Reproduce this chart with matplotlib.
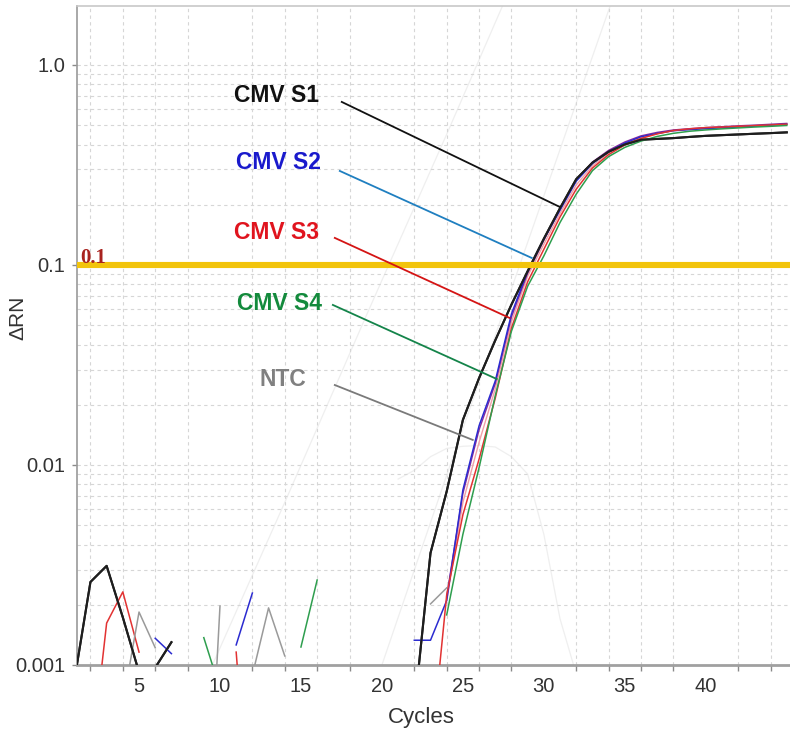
import numpy as np
import matplotlib
matplotlib.use('Agg')
import matplotlib.pyplot as plt
from matplotlib import font_manager
from matplotlib.ticker import MultipleLocator, LogLocator, NullFormatter

nan = np.nan

# amplification plot, delta Rn per cycle (nan = nothing drawn by the software)
cycles = np.arange(1, 46)

s1 = [0.00083, 0.0026, 0.00313, 0.00173, 0.00092,
      0.00097, 0.0013, nan, nan, nan,
      nan, nan, nan, nan, nan,
      nan, nan, nan, nan, nan,
      nan, 0.0006, 0.00363, 0.00738, 0.0168,
      0.0272, 0.042, 0.0634, 0.0931, 0.1352,
      0.1923, 0.2685, 0.3243, 0.368, 0.4004,
      0.4226, 0.4266, 0.4305, 0.4365, 0.4419,
      0.4455, 0.449, 0.4527, 0.456, 0.460]

s2 = [nan, nan, nan, nan, nan,
      0.00136, 0.00114, nan, nan, nan,
      0.00126, 0.00229, nan, nan, nan,
      nan, nan, nan, nan, nan,
      nan, 0.00133, 0.00133, 0.0021, 0.0075,
      0.0157, 0.0263, 0.0569, 0.0931, 0.1347,
      0.188, 0.2624, 0.3214, 0.3685, 0.407,
      0.4375, 0.4545, 0.469, 0.4745, 0.48,
      0.485, 0.489, 0.494, 0.50, 0.505]

s3 = [nan, 0.00031, 0.00162, 0.00232, 0.00116,
      nan, nan, nan, nan, nan,
      0.00116, 0.000106, nan, nan, nan,
      nan, nan, nan, nan, nan,
      nan, nan, 0.00034, 0.00224, 0.00564,
      0.0107, 0.0216, 0.0484, 0.0824, 0.1197,
      0.1738, 0.2393, 0.305, 0.356, 0.398,
      0.429, 0.452, 0.470, 0.479, 0.486,
      0.489, 0.493, 0.497, 0.501, 0.505]

s4 = [nan, nan, nan, nan, nan,
      nan, nan, nan, 0.00137, 0.00076,
      nan, nan, nan, nan, 0.00123,
      0.00266, nan, nan, nan, nan,
      nan, nan, nan, 0.00178, 0.0045,
      0.0097, 0.0222, 0.0467, 0.0783, 0.111,
      0.1631, 0.226, 0.296, 0.348, 0.387,
      0.416, 0.439, 0.455, 0.466, 0.473,
      0.479, 0.484, 0.489, 0.493, 0.498]

ntc = [nan, nan, nan, 0.00064, 0.00184,
       0.00122, nan, nan, 0.00006, 0.00197,
       nan, 0.00089, 0.00193, 0.00111, nan,
       nan, nan, nan, nan, nan,
       nan, nan, 0.00202, 0.00243, nan,
       nan, nan, nan, nan, nan,
       nan, nan, nan, nan, nan,
       nan, nan, nan, nan, nan,
       nan, nan, nan, nan, nan]

# replicate wells hidden under the labelled ones
rep_cycles = np.arange(24, 46)
rep_pink = [0.0021, 0.0065, 0.013, 0.024, 0.052, 0.088, 0.127, 0.181, 0.251, 0.313, 0.362,
            0.403, 0.433, 0.453, 0.469, 0.477, 0.483, 0.487, 0.491, 0.495, 0.499, 0.503]
rep_purple = [0.0022, 0.0072, 0.015, 0.0255, 0.055, 0.091, 0.133, 0.19, 0.266, 0.327, 0.374,
              0.412, 0.442, 0.46, 0.473, 0.48, 0.486, 0.491, 0.496, 0.50, 0.505, 0.51]

# very faint traces in the background
bg_arch_cycles = np.arange(21, 33)
bg_arch = [0.0085, 0.0094, 0.011, 0.0121, 0.0124, 0.0125, 0.0123, 0.011, 0.009, 0.0045, 0.0017, 0.0009]
bg_a_cycles = [9, 14, 19, 24, 28]
bg_a = [0.0008, 0.0065, 0.055, 0.45, 2.5]
bg_b_cycles = [20, 24, 28, 32, 35]
bg_b = [0.001, 0.0089, 0.076, 0.645, 3.2]

threshold = 0.1

# labels and their leader lines (text centre, line start, line end)
label_names = ['CMV S1', 'CMV S2', 'CMV S3', 'CMV S4', 'NTC']
label_x = [13.51, 13.6, 13.51, 13.69, 13.88]
label_y = [0.70, 0.326, 0.1445, 0.0643, 0.0266]
leader_x0 = [17.52, 17.40, 17.09, 16.97, 17.09]
leader_y0 = [0.653, 0.295, 0.1365, 0.0631, 0.0251]
leader_x1 = [30.98, 29.25, 27.89, 27.09, 25.61]
leader_y1 = [0.195, 0.1084, 0.0543, 0.0269, 0.01334]

xtick_vals = [5, 10, 15, 20, 25, 30, 35, 40]
ytick_vals = [0.001, 0.01, 0.1, 1.0]
ytick_labels = ['0.001', '0.01', '0.1', '1.0']

curve_colors = ['#1e1e1e', '#2b2bd0', '#e23232', '#2e9e4e', '#9a9a9a']
text_colors = ['#111111', '#1a1acc', '#e0141e', '#138a3c', '#808080']
leader_colors = ['#111111', '#1f7fc0', '#d41414', '#14844a', '#7a7a7a']

# pick a narrow sans if the machine has one
names = {f.name for f in font_manager.fontManager.ttflist}
if 'Liberation Sans Narrow' in names:
    sans = 'Liberation Sans Narrow'
    tick_fs, xlab_fs, ylab_fs, ann_fs = 17.5, 19.5, 18.5, 20
else:
    sans = 'Liberation Sans'
    tick_fs, xlab_fs, ylab_fs, ann_fs = 14.5, 16, 15, 16.5
plt.rcParams['font.family'] = [sans, 'DejaVu Sans']

fig = plt.figure(figsize=(7.9, 7.34), dpi=100)
ax = fig.add_axes([77 / 790, 69 / 734, 713 / 790, 659 / 734])
ax.set_yscale('log')
ax.set_xlim(1.17, 45.2)
ax.set_ylim(0.001, 1.97)

# grid
ax.xaxis.set_major_locator(plt.FixedLocator(xtick_vals))
ax.xaxis.set_minor_locator(MultipleLocator(2))
ax.set_yticks(ytick_vals)
ax.set_yticklabels(ytick_labels)
ax.yaxis.set_minor_locator(LogLocator(base=10, subs=np.arange(2, 10)))
ax.yaxis.set_minor_formatter(NullFormatter())
ax.grid(False)
ax.grid(True, axis='x', which='minor', color='#d6d6d6', linestyle=(0, (3, 3)), lw=0.8)
ax.grid(True, axis='y', which='both', color='#d6d6d6', linestyle=(0, (3, 3)), lw=0.8)

ax.tick_params(axis='x', which='major', length=0, pad=9, labelsize=tick_fs, labelcolor='#333333')
ax.tick_params(axis='x', which='minor', length=4, width=1, color='#8a8a8a', direction='out')
ax.tick_params(axis='y', which='major', length=3.5, width=1, color='#8a8a8a', pad=5,
               labelsize=tick_fs, labelcolor='#333333')
ax.tick_params(axis='y', which='minor', length=0)

ax.spines['right'].set_visible(False)
ax.spines['left'].set_color('#9a9a9a')
ax.spines['left'].set_linewidth(1.2)
ax.spines['bottom'].set_color('#a0a0a0')
ax.spines['bottom'].set_linewidth(2)
ax.spines['top'].set_color('#c8c8c8')
ax.spines['top'].set_linewidth(1.2)

# faint background traces
for bx, by in [(bg_arch_cycles, bg_arch), (bg_a_cycles, bg_a), (bg_b_cycles, bg_b)]:
    ax.plot(bx, by, color='#efefef', lw=0.9, zorder=1)

# replicate wells
ax.plot(rep_cycles, rep_pink, color='#f0a0a8', lw=1.0, zorder=2)
ax.plot(rep_cycles, rep_purple, color='#8a2a9a', lw=1.0, zorder=2)

# labelled wells
series = [s1, s2, s3, s4, ntc]
widths = [1.5, 1.1, 1.1, 1.1, 1.1]
for vals, col, w in zip(series, curve_colors, widths):
    ax.plot(cycles, vals, color=col, lw=w, zorder=3)
# black curve on top so it stays visible on the left
ax.plot(cycles, s1, color=curve_colors[0], lw=1.5, zorder=3.5)

# threshold
ax.axhline(threshold, color='#f2c40c', lw=4.4, zorder=4)
ax.text(0.004, 0.1023, '0.1', transform=ax.get_yaxis_transform(), ha='left', va='baseline',
        fontsize=15, fontweight='bold', color='#a8231f', family=['Liberation Serif', 'DejaVu Serif'],
        zorder=5)

# leader lines and labels
for i, name in enumerate(label_names):
    ax.plot([leader_x0[i], leader_x1[i]], [leader_y0[i], leader_y1[i]],
            color=leader_colors[i], lw=1.3, zorder=5)
    ax.text(label_x[i], label_y[i], name, ha='center', va='center', fontsize=ann_fs,
            fontweight='bold', color=text_colors[i], zorder=6)

ax.set_xlabel('Cycles', fontsize=xlab_fs, color='#333333')
ax.xaxis.set_label_coords((421 - 77) / 713, -(718 - 665) / 659)
ax.xaxis.label.set_va('center')
ax.set_ylabel('\u0394RN', fontsize=ylab_fs, color='#333333')
ax.yaxis.set_label_coords(-(77 - 18) / 713, (665 - 318) / 659)
ax.yaxis.label.set_va('center')

fig.savefig('out.png', dpi=100)
